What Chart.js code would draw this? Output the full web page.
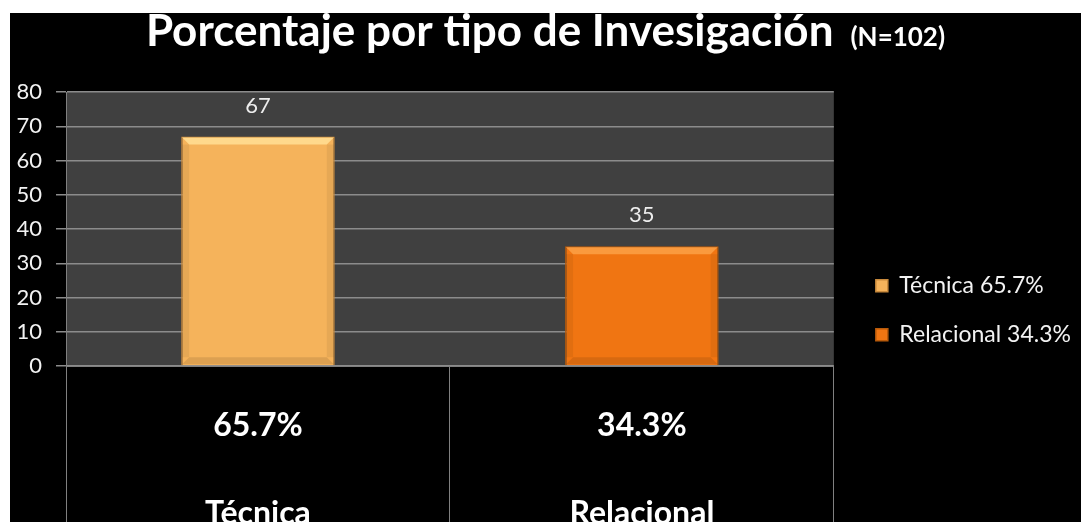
<!DOCTYPE html>
<html>
<head>
<meta charset="utf-8">
<script src="https://cdn.jsdelivr.net/npm/chart.js@4.4.1/dist/chart.umd.min.js"></script>
<style>
  html, body { margin: 0; background: #fff; }
  #wrap { position: absolute; left: 10px; top: 13px; width: 1071px; height: 509px; background: #000; }
</style>
</head>
<body>
<div id="wrap"><canvas id="tipoChart" width="1071" height="509"></canvas></div>
<script>
// data
const categories = ["Técnica", "Relacional"];
const counts = [67, 35];
const percents = [65.7, 34.3];
const yMin = 0, yMax = 80, yStep = 10;

const titleMain = "Porcentaje por tipo de Invesigación";
const titleNote = "(N=102)";

const barColors = ["#F5B35B", "#F07512"];
const barEdges = ["#C98A3C", "#B85A0A"];
const barLights = ["#FFD98C", "#FA9A3E"];
const FONT = "Lato, 'DejaVu Sans', sans-serif";

const datasets = categories.map((cat, i) => ({
  label: cat + " " + percents[i] + "%",
  data: counts.map((v, j) => (j === i ? v : null)),
  backgroundColor: barColors[i],
  borderColor: barEdges[i],
  borderWidth: 1.5,
  skipNull: true,
  categoryPercentage: 0.8,
  barPercentage: 0.5,
}));

// dark grey plot area
const plotBg = {
  id: "plotBg",
  beforeDraw(chart) {
    const { ctx, chartArea: a } = chart;
    ctx.save();
    ctx.fillStyle = "#404040";
    ctx.fillRect(a.left, a.top, a.right - a.left, a.bottom - a.top);
    ctx.restore();
  },
};

// bevel on bars + value labels above
const barExtras = {
  id: "barExtras",
  afterDatasetsDraw(chart) {
    const { ctx } = chart;
    chart.data.datasets.forEach((ds, i) => {
      const meta = chart.getDatasetMeta(i);
      meta.data.forEach((el, j) => {
        const v = ds.data[j];
        if (v === null) return;
        const { x, y, base, width } = el.getProps(["x", "y", "base", "width"], true);
        const l = x - width / 2, r = x + width / 2, b = 8;
        ctx.save();
        ctx.fillStyle = barLights[i];
        ctx.beginPath();
        ctx.moveTo(l + 1, y + 1); ctx.lineTo(r - 1, y + 1);
        ctx.lineTo(r - b, y + b); ctx.lineTo(l + b, y + b);
        ctx.closePath(); ctx.fill();
        ctx.fillStyle = "rgba(0,0,0,0.10)";
        ctx.beginPath();
        ctx.moveTo(l + 1, base - 1); ctx.lineTo(r - 1, base - 1);
        ctx.lineTo(r - b, base - b); ctx.lineTo(l + b, base - b);
        ctx.closePath(); ctx.fill();
        ctx.fillStyle = "rgba(0,0,0,0.06)";
        ctx.fillRect(l + 1, y + b, b - 1, base - y - 2 * b);
        ctx.fillRect(r - b, y + b, b - 1, base - y - 2 * b);
        ctx.fillStyle = "#EDEDED";
        ctx.font = "22px " + FONT;
        ctx.textAlign = "center";
        ctx.textBaseline = "middle";
        ctx.fillText(String(v), x, y - 31);
        ctx.restore();
      });
    });
  },
};

// title with the smaller (N=...) note
const twoPartTitle = {
  id: "twoPartTitle",
  afterDraw(chart) {
    const { ctx, width } = chart;
    ctx.save();
    ctx.fillStyle = "#fff";
    ctx.textBaseline = "alphabetic";
    ctx.font = "bold 44px " + FONT;
    const w1 = ctx.measureText(titleMain).width;
    ctx.font = "bold 26px " + FONT;
    const w2 = ctx.measureText(titleNote).width;
    const gap = 17;
    let x = width / 2 - (w1 + gap + w2) / 2;
    ctx.textAlign = "left";
    ctx.font = "bold 44px " + FONT;
    ctx.fillText(titleMain, x, 33);
    ctx.font = "bold 26px " + FONT;
    ctx.fillText(titleNote, x + w1 + gap, 33);
    ctx.restore();
  },
};

new Chart(document.getElementById("tipoChart"), {
  type: "bar",
  data: { labels: categories, datasets: datasets },
  plugins: [plotBg, barExtras, twoPartTitle],
  options: {
    responsive: false,
    animation: false,
    layout: { padding: { top: 79, left: 0, right: 0, bottom: 0 } },
    plugins: {
      title: { display: false },
      tooltip: { enabled: false },
      legend: {
        position: "right",
        align: "start",
        maxWidth: 320,
        title: { display: true, text: " ", padding: { top: 155, bottom: 0 }, font: { size: 1 } },
        labels: {
          color: "#F2F2F2",
          boxWidth: 12,
          boxHeight: 12,
          padding: 26,
          font: { family: FONT, size: 23 },
        },
      },
    },
    scales: {
      x: {
        grid: {
          offset: true,
          drawOnChartArea: false,
          drawTicks: true,
          tickLength: 156,
          color: "#808080",
        },
        border: { color: "#808080" },
        ticks: {
          color: "#FFFFFF",
          autoSkip: false,
          maxRotation: 0,
          padding: -140,
          font: { family: FONT, size: 32, weight: "bold", lineHeight: 2.75 },
          callback: function (value, index) {
            return [percents[index] + "%", categories[index]];
          },
        },
        afterFit: function (scale) { scale.height = 156; },
      },
      y: {
        min: yMin,
        max: yMax,
        ticks: {
          stepSize: yStep,
          color: "#F2F2F2",
          padding: 14,
          font: { family: FONT, size: 22 },
        },
        grid: { color: "#8C8C8C", lineWidth: 1.5, tickLength: 10 },
        border: { color: "#808080" },
        afterFit: function (scale) { scale.width = 56; },
      },
      // empty spacer between plot and legend
      gap: {
        position: "right",
        display: true,
        grid: { display: false },
        ticks: { display: false },
        border: { display: false },
        afterFit: function (scale) { scale.width = 16; },
      },
    },
  },
});
</script>
</body>
</html>
